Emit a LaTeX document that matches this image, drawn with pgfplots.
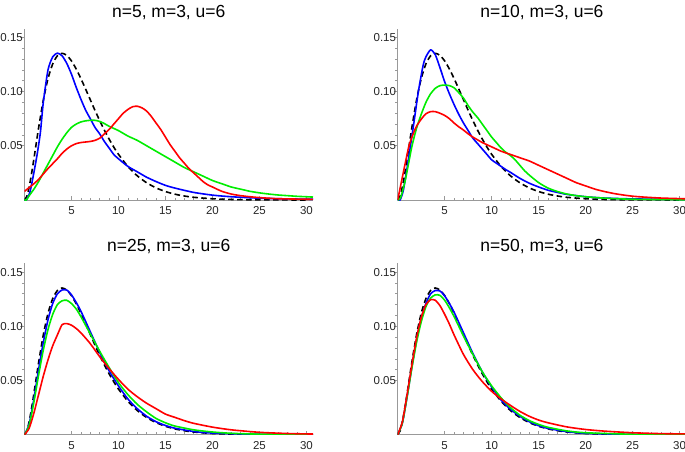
\documentclass[border=0pt]{standalone}
\usepackage{fontspec}
\setmainfont{Liberation Sans}
\usepackage{pgfplots}
\pgfplotsset{compat=1.18}
\definecolor{mblue}{rgb}{0,0,1}
\definecolor{mgreen}{rgb}{0,0.93,0}
\definecolor{mred}{rgb}{1,0,0}
\pgfplotsset{
 mma/.style={
  scale only axis, width=288.5pt, height=171.3pt,
  xmin=0, xmax=30.7, ymin=0, ymax=0.158,
  axis lines=middle, axis line style={draw=black!40, -, line width=0.6pt},
  xtick={5,10,15,20,25,30}, xticklabels={5,10,15,20,25,30},
  ytick={0.05,0.10,0.15}, yticklabels={0.05,0.10,0.15},
  minor x tick num=4, minor y tick num=4,
  tick align=inside, major tick length=4pt, minor tick length=2.5pt,
  tick style={draw=black!40, line width=0.6pt},
  major y tick style={xshift=-4pt}, minor y tick style={xshift=-2.5pt},
  ticklabel style={font=\fontsize{11.5}{11.5}\selectfont, text=black!85},
  xticklabel style={anchor=north, inner sep=0pt, yshift=-6.5pt},
  yticklabel style={anchor=east, inner sep=0pt, xshift=-1.5pt},
  /pgf/number format/assume math mode=true,
  title style={at={(0.5,1)}, anchor=base, yshift=5.5pt, font=\fontsize{17.5}{17.5}\selectfont, inner sep=0pt},
  every axis plot/.append style={line width=1.6pt, line join=round, smooth, tension=0.4},
 },
 truth/.style={black, dash pattern=on 5.5pt off 3.5pt},
}
\newcommand{\truthplot}{\addplot[truth] coordinates {(0,0) (0.25,0.00345) (0.5,0.01217) (0.75,0.02416) (1,0.03791) (1.5,0.06642) (2,0.09197) (2.5,0.11192) (3,0.12551) (3.5,0.13304) (4,0.13534) (4.5,0.13339) (5,0.12826) (5.5,0.12086) (6,0.11202) (6.5,0.10239) (7,0.09248) (7.5,0.08268) (8,0.07326) (8.5,0.0644) (9,0.05624) (9.5,0.0488) (10,0.04211) (11,0.03091) (12,0.02231) (13,0.01588) (14,0.01117) (15,0.00778) (16,0.00537) (17,0.00368) (18,0.0025) (20,0.001135) (22,0.000505) (25,0.000146) (30,0.0000172)};}
\begin{document}
\begin{tikzpicture}
\path[use as bounding box] (0,0) rectangle (685pt,-452pt);
% Panel 1
\begin{axis}[mma, at={(24.5pt,-200pt)}, anchor=south west, title={n=5, m=3, u=6}]
\truthplot
\addplot[mblue] coordinates {(0,0) (0.2,0) (0.6,0.008) (1.1,0.03) (1.4,0.045) (1.7,0.063) (2,0.09) (2.5,0.12) (3,0.132) (3.5,0.1355) (4,0.133) (4.5,0.126) (5,0.116) (5.5,0.104) (6,0.093) (6.5,0.083) (7,0.075) (7.5,0.067) (8,0.061) (8.5,0.054) (9,0.048) (9.5,0.042) (10,0.038) (11,0.031) (12,0.026) (13,0.021) (14,0.017) (15,0.0135) (16,0.011) (18,0.007) (20,0.0045) (22,0.003) (25,0.0017) (28,0.001) (30.7,0.0007)};
\addplot[mgreen] coordinates {(0,0) (0.2,0) (0.5,0.004) (1,0.01) (1.5,0.017) (2,0.025) (2.5,0.033) (3,0.041) (3.5,0.049) (4,0.056) (4.5,0.062) (5,0.067) (5.5,0.07) (6,0.072) (6.5,0.073) (7,0.0735) (7.5,0.0735) (8,0.0725) (8.5,0.0705) (9,0.068) (10,0.064) (11,0.059) (12,0.055) (13,0.05) (14,0.045) (15,0.04) (16,0.035) (17,0.03) (18,0.026) (19,0.022) (20,0.018) (21,0.015) (22,0.012) (23,0.01) (24,0.008) (25,0.0066) (26,0.0055) (27,0.0046) (28,0.004) (29,0.0034) (30,0.003) (30.7,0.0027)};
\addplot[mred] coordinates {(0,0.008) (0.5,0.0115) (1,0.015) (1.5,0.019) (2,0.024) (2.5,0.029) (3,0.0335) (3.5,0.038) (4,0.043) (4.5,0.047) (5,0.05) (5.5,0.052) (6,0.053) (6.5,0.0535) (7,0.054) (7.5,0.055) (8,0.057) (8.5,0.061) (9,0.065) (9.5,0.07) (10,0.075) (10.5,0.08) (11,0.0835) (11.5,0.086) (12,0.0865) (12.5,0.085) (13,0.082) (13.5,0.077) (14,0.071) (14.5,0.065) (15,0.058) (15.5,0.051) (16,0.045) (16.5,0.039) (17,0.034) (17.5,0.029) (18,0.025) (18.5,0.021) (19,0.017) (19.5,0.014) (20,0.012) (21,0.008) (22,0.0055) (23,0.004) (24,0.003) (25,0.0022) (27,0.0012) (30.7,0.0006)};
\end{axis}
% Panel 2
\begin{axis}[mma, at={(397.7pt,-200pt)}, anchor=south west, title={n=10, m=3, u=6}]
\truthplot
\addplot[mblue] coordinates {(0,0) (0.25,0) (0.6,0.009) (1.1,0.035) (1.7,0.07) (2.2,0.1) (2.7,0.124) (3,0.132) (3.5,0.1385) (4,0.134) (4.5,0.122) (5,0.109) (5.5,0.098) (6,0.088) (6.5,0.079) (7,0.071) (7.5,0.064) (8,0.057) (8.5,0.052) (9,0.047) (9.5,0.042) (10,0.037) (10.5,0.034) (11,0.031) (11.5,0.028) (12,0.0255) (13,0.02) (14,0.0155) (15,0.012) (16,0.009) (17,0.007) (18,0.0052) (20,0.003) (22,0.0018) (25,0.001) (30.7,0.0004)};
\addplot[mgreen] coordinates {(0,0) (0.3,0.002) (0.8,0.018) (1.5,0.049) (2,0.066) (2.5,0.079) (3,0.09) (3.5,0.098) (4,0.103) (4.5,0.1055) (5,0.106) (5.5,0.1055) (6,0.1035) (6.5,0.099) (7,0.094) (7.5,0.087) (8,0.081) (8.5,0.076) (9,0.07) (9.5,0.064) (10,0.058) (10.5,0.053) (11,0.048) (11.5,0.044) (12,0.041) (12.5,0.037) (13,0.032) (13.5,0.027) (14,0.023) (15,0.016) (16,0.011) (17,0.0078) (18,0.0055) (19,0.004) (20,0.003) (22,0.0017) (25,0.0007) (30.7,0.0002)};
\addplot[mred] coordinates {(0,0) (0.4,0.017) (0.9,0.038) (1.2,0.05) (1.6,0.06) (2,0.068) (2.5,0.0745) (3,0.0795) (3.5,0.0815) (4,0.0815) (4.5,0.08) (5,0.078) (5.5,0.075) (6,0.071) (6.5,0.0675) (7,0.0645) (7.5,0.061) (8,0.058) (8.5,0.0555) (9,0.053) (9.5,0.051) (10,0.049) (10.5,0.047) (11,0.045) (11.5,0.0435) (12,0.042) (13,0.039) (14,0.036) (15,0.032) (16,0.028) (17,0.024) (18,0.02) (19,0.016) (20,0.013) (21,0.01) (22,0.0078) (23,0.006) (24,0.0046) (25,0.0035) (26,0.0028) (28,0.0018) (30.7,0.0011)};
\end{axis}
% Panel 3
\begin{axis}[mma, at={(24.5pt,-434.7pt)}, anchor=south west, title={n=25, m=3, u=6}]
\truthplot
\addplot[mblue] coordinates {(0,0) (0.5,0.01) (1,0.033) (1.5,0.06) (2,0.085) (2.5,0.106) (3,0.121) (3.5,0.13) (4,0.1335) (4.5,0.1334) (5,0.129) (5.5,0.122) (6,0.114) (7,0.095) (8,0.076) (9,0.059) (10,0.045) (11,0.033) (12,0.024) (13,0.017) (14,0.012) (15,0.0085) (16,0.006) (18,0.003) (20,0.0015) (25,0.0003) (30.7,0.0001)};
\addplot[mgreen] coordinates {(0,0) (0.5,0.009) (1,0.03) (1.5,0.055) (2,0.078) (2.5,0.097) (3,0.111) (3.5,0.12) (4,0.1235) (4.5,0.124) (5,0.121) (5.5,0.116) (6,0.109) (7,0.093) (8,0.077) (9,0.062) (10,0.048) (11,0.037) (12,0.028) (13,0.021) (14,0.015) (15,0.011) (16,0.008) (18,0.0045) (20,0.0025) (22,0.0013) (25,0.0005) (30.7,0.0001)};
\addplot[mred] coordinates {(0,0) (0.5,0.006) (1,0.02) (1.5,0.037) (2,0.054) (2.5,0.069) (3,0.082) (3.5,0.092) (4,0.1015) (4.5,0.1025) (5,0.101) (5.5,0.098) (6,0.094) (7,0.084) (8,0.072) (9,0.061) (10,0.051) (11,0.042) (12,0.035) (13,0.029) (14,0.024) (15,0.019) (16,0.016) (17,0.013) (18,0.0105) (20,0.007) (22,0.0045) (25,0.0022) (28,0.0011) (30.7,0.0006)};
\end{axis}
% Panel 4
\begin{axis}[mma, at={(397.7pt,-434.7pt)}, anchor=south west, title={n=50, m=3, u=6}]
\truthplot
\addplot[mblue] coordinates {(0,0) (0.5,0.011) (1,0.035) (1.5,0.062) (2,0.087) (2.5,0.107) (3,0.121) (3.5,0.13) (4,0.133) (4.5,0.1325) (5,0.128) (5.5,0.121) (6,0.113) (7,0.094) (8,0.075) (9,0.058) (10,0.044) (11,0.032) (12,0.0235) (13,0.017) (14,0.012) (15,0.0083) (16,0.0058) (18,0.0028) (20,0.0013) (25,0.0002) (30.7,0)};
\addplot[mgreen] coordinates {(0,0) (0.5,0.011) (1,0.035) (1.5,0.061) (2,0.085) (2.5,0.104) (3,0.118) (3.5,0.126) (4,0.129) (4.5,0.1285) (5,0.124) (5.5,0.117) (6,0.109) (7,0.091) (8,0.074) (9,0.058) (10,0.045) (11,0.034) (12,0.025) (13,0.018) (14,0.013) (15,0.0095) (16,0.0068) (18,0.0035) (20,0.0018) (25,0.0004) (30.7,0.0001)};
\addplot[mred] coordinates {(0,0) (0.5,0.012) (1,0.037) (1.5,0.064) (2,0.089) (2.5,0.108) (3,0.12) (3.5,0.1245) (4,0.124) (4.5,0.119) (5,0.111) (5.5,0.102) (6,0.092) (7,0.074) (8,0.06) (9,0.049) (10,0.04) (11,0.033) (12,0.027) (13,0.0215) (14,0.017) (15,0.0135) (16,0.011) (18,0.0072) (20,0.0048) (22,0.0033) (25,0.0018) (28,0.001) (30.7,0.0007)};
\end{axis}
\end{tikzpicture}
\end{document}
